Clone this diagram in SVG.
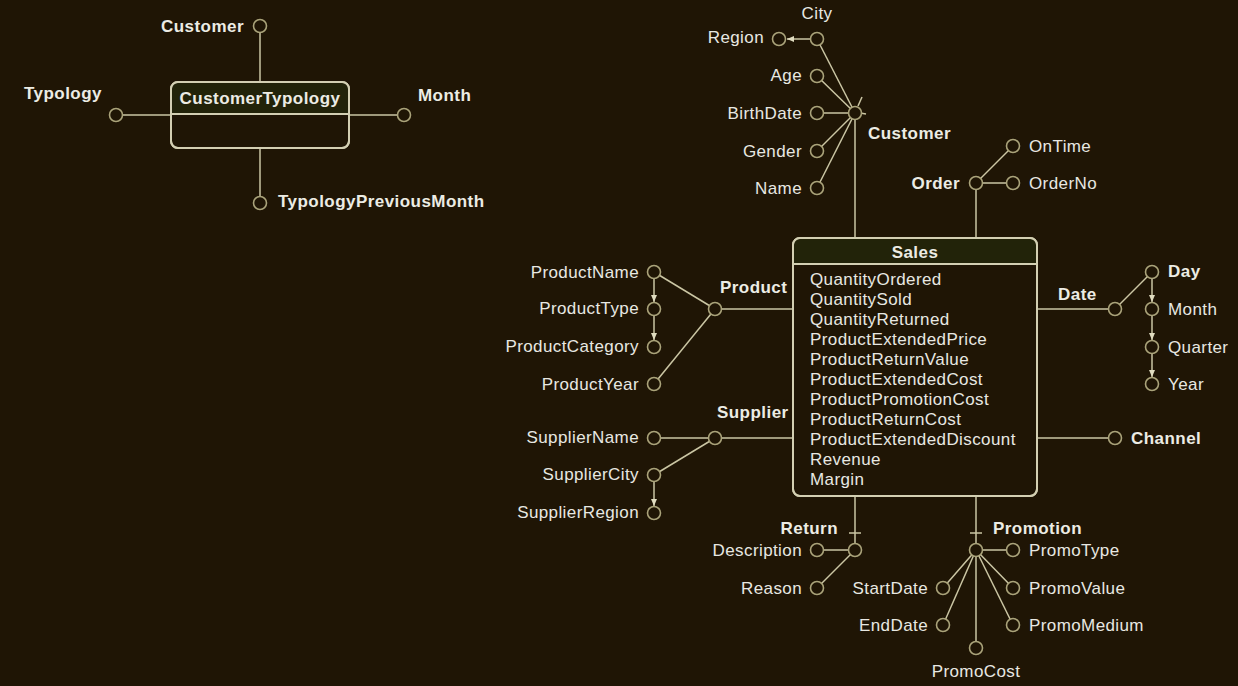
<svg xmlns="http://www.w3.org/2000/svg" width="1238" height="686" viewBox="0 0 1238 686">
<style>
.bg{fill:#1f1505}
.ln{stroke:#cbc6a4;stroke-width:1.5;fill:none}
.c{fill:#1f1505;stroke:#aaa37a;stroke-width:1.6}
.box{fill:#1f1505;stroke:#d3cfb2;stroke-width:2}
.hdr{fill:#222309}
.t{font-family:"Liberation Sans",Arial,sans-serif;font-size:17px;fill:#e8e8e2;letter-spacing:0.4px}
.b{font-family:"Liberation Sans",Arial,sans-serif;font-size:17px;font-weight:bold;fill:#ecece4;letter-spacing:0.45px}
.r{text-anchor:end}
.m{text-anchor:middle}
</style>
<defs>
<marker id="ah" markerWidth="8" markerHeight="8" refX="7" refY="4" orient="auto" markerUnits="userSpaceOnUse">
<path d="M0,1 L7,4 L0,7 Z" fill="#e0dcc0"/>
</marker>
</defs>
<rect class="bg" x="0" y="0" width="1238" height="686"/>

<g id="connectors">
<line class="ln" x1="260" y1="32" x2="260" y2="82"/>
<line class="ln" x1="122" y1="115" x2="171" y2="115"/>
<line class="ln" x1="349" y1="115" x2="398" y2="115"/>
<line class="ln" x1="260" y1="148" x2="260" y2="197"/>
<line class="ln" x1="810" y1="39" x2="787" y2="39" marker-end="url(#ah)"/>
<line class="ln" x1="855" y1="113" x2="817" y2="39"/>
<line class="ln" x1="855" y1="113" x2="817" y2="76"/>
<line class="ln" x1="855" y1="113" x2="817" y2="113"/>
<line class="ln" x1="855" y1="113" x2="817" y2="151"/>
<line class="ln" x1="855" y1="113" x2="817" y2="188"/>
<line class="ln" x1="855" y1="113" x2="855" y2="238"/>
<line class="ln" x1="858" y1="106" x2="862" y2="97"/>
<line class="ln" x1="860" y1="113" x2="866" y2="114"/>
<line class="ln" x1="976" y1="183" x2="1013" y2="146"/>
<line class="ln" x1="976" y1="183" x2="1013" y2="183"/>
<line class="ln" x1="976" y1="183" x2="976" y2="238"/>
<line class="ln" x1="715" y1="309" x2="793" y2="309"/>
<line class="ln" x1="715" y1="309" x2="654" y2="272"/>
<line class="ln" x1="715" y1="309" x2="654" y2="384"/>
<line class="ln" x1="654" y1="279" x2="654" y2="302" marker-end="url(#ah)"/>
<line class="ln" x1="654" y1="316" x2="654" y2="340" marker-end="url(#ah)"/>
<line class="ln" x1="715" y1="438" x2="793" y2="438"/>
<line class="ln" x1="715" y1="438" x2="654" y2="438"/>
<line class="ln" x1="715" y1="438" x2="654" y2="475"/>
<line class="ln" x1="654" y1="482" x2="654" y2="506" marker-end="url(#ah)"/>
<line class="ln" x1="1037" y1="309" x2="1115" y2="309"/>
<line class="ln" x1="1115" y1="309" x2="1152" y2="272"/>
<line class="ln" x1="1152" y1="279" x2="1152" y2="302" marker-end="url(#ah)"/>
<line class="ln" x1="1152" y1="316" x2="1152" y2="340" marker-end="url(#ah)"/>
<line class="ln" x1="1152" y1="354" x2="1152" y2="377" marker-end="url(#ah)"/>
<line class="ln" x1="1037" y1="438" x2="1115" y2="438"/>
<line class="ln" x1="855" y1="497" x2="855" y2="550"/>
<line class="ln" x1="849" y1="533" x2="861" y2="533"/>
<line class="ln" x1="855" y1="550" x2="817" y2="550"/>
<line class="ln" x1="855" y1="550" x2="817" y2="588"/>
<line class="ln" x1="976" y1="497" x2="976" y2="550"/>
<line class="ln" x1="970" y1="533" x2="982" y2="533"/>
<line class="ln" x1="976" y1="550" x2="1013" y2="550"/>
<line class="ln" x1="976" y1="550" x2="1013" y2="588"/>
<line class="ln" x1="976" y1="550" x2="1013" y2="625"/>
<line class="ln" x1="976" y1="550" x2="976" y2="648"/>
<line class="ln" x1="976" y1="550" x2="943" y2="588"/>
<line class="ln" x1="976" y1="550" x2="943" y2="625"/>
</g>

<g id="CustomerTypology">
<rect class="box" x="171" y="82" width="178" height="66" rx="7"/>
<path class="hdr" d="M178,83 H342 Q348,83 348,89 V114 H172 V89 Q172,83 178,83 Z"/>
<line x1="171" y1="114" x2="349" y2="114" stroke="#d3cfb2" stroke-width="2"/>
<rect x="171" y="82" width="178" height="66" rx="7" fill="none" stroke="#d3cfb2" stroke-width="2"/>
<text class="b m" x="260" y="104">CustomerTypology</text>
</g>
<g id="ct-Customer"><circle class="c" cx="260" cy="26" r="6.5"/><text class="b r" x="244" y="32">Customer</text></g>
<g id="ct-Typology"><circle class="c" cx="116" cy="115" r="6.5"/><text class="b" x="24" y="99">Typology</text></g>
<g id="ct-Month"><circle class="c" cx="404" cy="115" r="6.5"/><text class="b" x="418" y="101">Month</text></g>
<g id="ct-TypologyPreviousMonth"><circle class="c" cx="260" cy="203" r="6.5"/><text class="b" x="278" y="207">TypologyPreviousMonth</text></g>

<g id="Sales">
<rect class="box" x="793" y="238" width="244" height="258" rx="7"/>
<path class="hdr" d="M800,239 H1030 Q1036,239 1036,245 V264 H794 V245 Q794,239 800,239 Z"/>
<line x1="793" y1="264" x2="1037" y2="264" stroke="#d3cfb2" stroke-width="2"/>
<rect x="793" y="238" width="244" height="258" rx="7" fill="none" stroke="#d3cfb2" stroke-width="2"/>
<text class="b m" x="915" y="258">Sales</text>
<text class="t" x="810" y="285">QuantityOrdered</text>
<text class="t" x="810" y="305">QuantitySold</text>
<text class="t" x="810" y="325">QuantityReturned</text>
<text class="t" x="810" y="345">ProductExtendedPrice</text>
<text class="t" x="810" y="365">ProductReturnValue</text>
<text class="t" x="810" y="385">ProductExtendedCost</text>
<text class="t" x="810" y="405">ProductPromotionCost</text>
<text class="t" x="810" y="425">ProductReturnCost</text>
<text class="t" x="810" y="445">ProductExtendedDiscount</text>
<text class="t" x="810" y="465">Revenue</text>
<text class="t" x="810" y="485">Margin</text>
</g>

<g id="Customer"><circle class="c" cx="855" cy="113" r="6.5"/><text class="b" x="868" y="139">Customer</text></g>
<g id="City"><circle class="c" cx="817" cy="39" r="6.5"/><text class="t m" x="817" y="19">City</text></g>
<g id="Region"><circle class="c" cx="779" cy="39" r="6.5"/><text class="t r" x="764" y="43">Region</text></g>
<g id="Age"><circle class="c" cx="817" cy="76" r="6.5"/><text class="t r" x="802" y="81">Age</text></g>
<g id="BirthDate"><circle class="c" cx="817" cy="113" r="6.5"/><text class="t r" x="802" y="119">BirthDate</text></g>
<g id="Gender"><circle class="c" cx="817" cy="151" r="6.5"/><text class="t r" x="802" y="157">Gender</text></g>
<g id="Name"><circle class="c" cx="817" cy="188" r="6.5"/><text class="t r" x="802" y="194">Name</text></g>

<g id="Order"><circle class="c" cx="976" cy="183" r="6.5"/><text class="b r" x="960" y="189">Order</text></g>
<g id="OnTime"><circle class="c" cx="1013" cy="146" r="6.5"/><text class="t" x="1029" y="152">OnTime</text></g>
<g id="OrderNo"><circle class="c" cx="1013" cy="183" r="6.5"/><text class="t" x="1029" y="189">OrderNo</text></g>

<g id="Product"><circle class="c" cx="715" cy="309" r="6.5"/><text class="b" x="720" y="293">Product</text></g>
<g id="ProductName"><circle class="c" cx="654" cy="272" r="6.5"/><text class="t r" x="639" y="278">ProductName</text></g>
<g id="ProductType"><circle class="c" cx="654" cy="309" r="6.5"/><text class="t r" x="639" y="314">ProductType</text></g>
<g id="ProductCategory"><circle class="c" cx="654" cy="347" r="6.5"/><text class="t r" x="639" y="352">ProductCategory</text></g>
<g id="ProductYear"><circle class="c" cx="654" cy="384" r="6.5"/><text class="t r" x="639" y="390">ProductYear</text></g>

<g id="Supplier"><circle class="c" cx="715" cy="438" r="6.5"/><text class="b" x="717" y="418">Supplier</text></g>
<g id="SupplierName"><circle class="c" cx="654" cy="438" r="6.5"/><text class="t r" x="639" y="443">SupplierName</text></g>
<g id="SupplierCity"><circle class="c" cx="654" cy="475" r="6.5"/><text class="t r" x="639" y="480">SupplierCity</text></g>
<g id="SupplierRegion"><circle class="c" cx="654" cy="513" r="6.5"/><text class="t r" x="639" y="518">SupplierRegion</text></g>

<g id="Date"><circle class="c" cx="1115" cy="309" r="6.5"/><text class="b" x="1058" y="300">Date</text></g>
<g id="Day"><circle class="c" cx="1152" cy="272" r="6.5"/><text class="b" x="1168" y="277">Day</text></g>
<g id="Month"><circle class="c" cx="1152" cy="309" r="6.5"/><text class="t" x="1168" y="315">Month</text></g>
<g id="Quarter"><circle class="c" cx="1152" cy="347" r="6.5"/><text class="t" x="1168" y="353">Quarter</text></g>
<g id="Year"><circle class="c" cx="1152" cy="384" r="6.5"/><text class="t" x="1168" y="390">Year</text></g>

<g id="Channel"><circle class="c" cx="1115" cy="438" r="6.5"/><text class="b" x="1131" y="444">Channel</text></g>

<g id="Return"><circle class="c" cx="855" cy="550" r="6.5"/><text class="b r" x="838" y="534">Return</text></g>
<g id="Description"><circle class="c" cx="817" cy="550" r="6.5"/><text class="t r" x="802" y="556">Description</text></g>
<g id="Reason"><circle class="c" cx="817" cy="588" r="6.5"/><text class="t r" x="802" y="594">Reason</text></g>

<g id="Promotion"><circle class="c" cx="976" cy="550" r="6.5"/><text class="b" x="993" y="534">Promotion</text></g>
<g id="PromoType"><circle class="c" cx="1013" cy="550" r="6.5"/><text class="t" x="1029" y="556">PromoType</text></g>
<g id="PromoValue"><circle class="c" cx="1013" cy="588" r="6.5"/><text class="t" x="1029" y="594">PromoValue</text></g>
<g id="PromoMedium"><circle class="c" cx="1013" cy="625" r="6.5"/><text class="t" x="1029" y="631">PromoMedium</text></g>
<g id="PromoCost"><circle class="c" cx="976" cy="648" r="6.5"/><text class="t m" x="976" y="677">PromoCost</text></g>
<g id="StartDate"><circle class="c" cx="943" cy="588" r="6.5"/><text class="t r" x="928" y="594">StartDate</text></g>
<g id="EndDate"><circle class="c" cx="943" cy="625" r="6.5"/><text class="t r" x="928" y="631">EndDate</text></g>
</svg>
